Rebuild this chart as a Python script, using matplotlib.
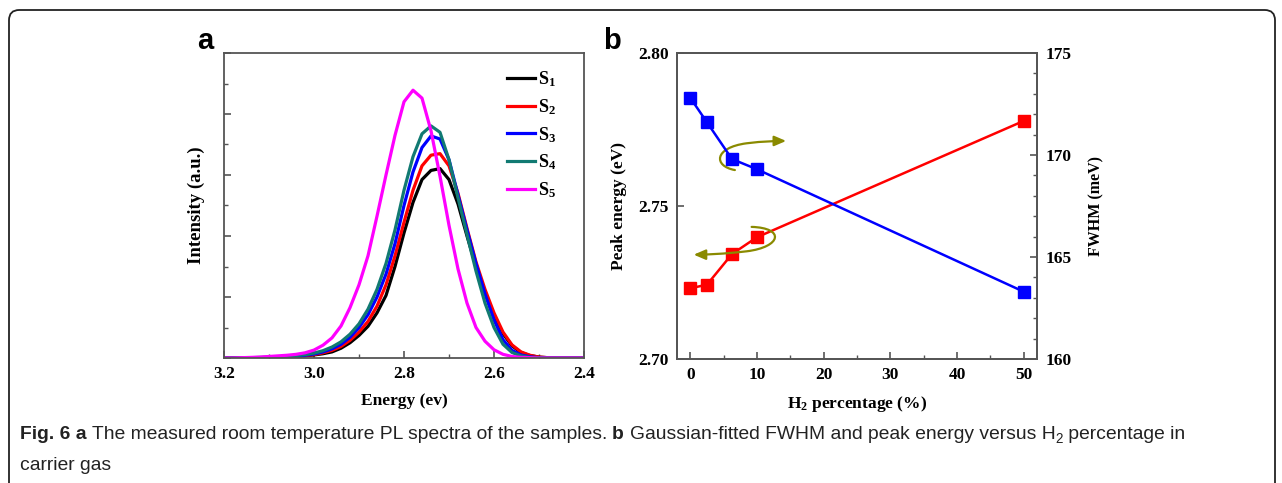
import matplotlib
matplotlib.use("Agg")
import matplotlib.pyplot as plt
from matplotlib.patches import FancyArrowPatch, FancyBboxPatch
from matplotlib.path import Path
from matplotlib.ticker import MultipleLocator, NullFormatter

plt.rcParams['font.family'] = ['Liberation Serif', 'DejaVu Serif']
plt.rcParams['font.weight'] = 'bold'
plt.rcParams['mathtext.default'] = 'regular'

# panel a: PL spectra (0.02 eV steps from 3.20 to 2.40)
energy = [3.20, 3.18, 3.16, 3.14, 3.12, 3.10, 3.08, 3.06, 3.04, 3.02, 3.00,
          2.98, 2.96, 2.94, 2.92, 2.90, 2.88, 2.86, 2.84, 2.82, 2.80,
          2.78, 2.76, 2.74, 2.72, 2.70, 2.68, 2.66, 2.64, 2.62, 2.60,
          2.58, 2.56, 2.54, 2.52, 2.50, 2.48, 2.46, 2.44, 2.42, 2.40]
s1 = [0, 0, 0, 0, 0.001, 0.001, 0.002, 0.003, 0.005, 0.007, 0.010,
      0.014, 0.020, 0.032, 0.050, 0.074, 0.104, 0.148, 0.205, 0.300, 0.410,
      0.510, 0.585, 0.615, 0.621, 0.585, 0.505, 0.400, 0.300, 0.215, 0.140,
      0.080, 0.040, 0.018, 0.008, 0.003, 0.001, 0, 0, 0, 0]
s2 = [0, 0, 0, 0, 0.001, 0.001, 0.002, 0.003, 0.005, 0.008, 0.011,
      0.017, 0.025, 0.038, 0.058, 0.085, 0.120, 0.170, 0.240, 0.335, 0.445,
      0.550, 0.630, 0.665, 0.670, 0.630, 0.540, 0.425, 0.315, 0.225, 0.148,
      0.085, 0.043, 0.020, 0.009, 0.003, 0.001, 0, 0, 0, 0]
s3 = [0, 0, 0, 0, 0.001, 0.002, 0.003, 0.004, 0.006, 0.009, 0.013,
      0.020, 0.030, 0.045, 0.068, 0.100, 0.142, 0.200, 0.275, 0.375, 0.500,
      0.610, 0.690, 0.728, 0.718, 0.650, 0.535, 0.420, 0.310, 0.210, 0.125,
      0.060, 0.025, 0.010, 0.004, 0.001, 0, 0, 0, 0, 0]
s4 = [0, 0, 0, 0.001, 0.002, 0.003, 0.004, 0.005, 0.008, 0.011, 0.016,
      0.024, 0.036, 0.053, 0.078, 0.112, 0.160, 0.225, 0.310, 0.420, 0.550,
      0.660, 0.735, 0.761, 0.740, 0.650, 0.525, 0.405, 0.285, 0.180, 0.100,
      0.045, 0.018, 0.007, 0.002, 0.001, 0, 0, 0, 0, 0]
s5 = [0, 0, 0.001, 0.002, 0.003, 0.005, 0.007, 0.009, 0.012, 0.017, 0.026,
      0.042, 0.066, 0.105, 0.165, 0.240, 0.335, 0.465, 0.600, 0.730, 0.840,
      0.878, 0.852, 0.745, 0.596, 0.435, 0.292, 0.180, 0.100, 0.055, 0.027,
      0.012, 0.005, 0.002, 0.001, 0, 0, 0, 0, 0, 0]
spectra = [s1, s2, s3, s4, s5]
sample_names = ['S$_1$', 'S$_2$', 'S$_3$', 'S$_4$', 'S$_5$']
spectra_colors = ['black', 'red', 'blue', '#117a72', '#ff00ff']

# panel b
h2_percent = [0, 2.5, 6.25, 10, 50]
peak_energy = [2.7231, 2.7243, 2.7343, 2.7398, 2.7778]
fwhm = [172.8, 171.6, 169.8, 169.3, 163.3]

W, H = 1282, 483
fig = plt.figure(figsize=(W / 100, H / 100), dpi=100)

def px_axes(left, top, right, bottom):
    return fig.add_axes([left / W, 1 - bottom / H, (right - left) / W, (bottom - top) / H])

# frame around the whole figure
fig.patches.append(FancyBboxPatch((9 / W, -0.05), 1266 / W, 1 - 10 / H + 0.05,
                                  boxstyle="round,pad=0,rounding_size=0.008",
                                  transform=fig.transFigure, fill=False,
                                  edgecolor='#222222', linewidth=1.3,
                                  mutation_aspect=W / H))

spine_col = '#555555'

# ---- panel a ----
ax1 = px_axes(224, 53, 584, 358)
for y, name, c in zip(spectra, sample_names, spectra_colors):
    ax1.plot(energy, y, color=c, lw=2.3, label=name)
ax1.set_xlim(3.2, 2.4)
ax1.set_ylim(0, 1.0)
ax1.xaxis.set_major_locator(MultipleLocator(0.2))
ax1.xaxis.set_minor_locator(MultipleLocator(0.1))
ax1.yaxis.set_major_locator(MultipleLocator(0.2))
ax1.yaxis.set_minor_locator(MultipleLocator(0.1))
ax1.yaxis.set_major_formatter(NullFormatter())
ax1.xaxis.set_major_formatter(plt.FuncFormatter(lambda v, p: f"{v:.1f}"))
ax1.tick_params(which='both', direction='in', top=False, right=False, color=spine_col)
ax1.tick_params(which='major', length=5, width=1.2, labelsize=12.5, pad=6)
ax1.tick_params(which='minor', length=3, width=1.0)
ax1.set_xlabel('Energy (ev)', fontsize=12.5, fontweight='bold', labelpad=8)
ax1.set_ylabel('Intensity (a.u.)', fontsize=13.5, fontweight='bold', labelpad=8)
for s in ax1.spines.values():
    s.set_color(spine_col)
    s.set_linewidth(1.3)
ax1.legend(loc='upper left', bbox_to_anchor=(0.785, 0.947), frameon=False,
           handlelength=1.55, handletextpad=0.2, labelspacing=0.45,
           borderpad=0, borderaxespad=0,
           prop=dict(family='Liberation Serif', weight='bold', size=13))

# ---- panel b ----
ax2 = px_axes(677, 53, 1037, 359)
ax3 = ax2.twinx()
ax2.plot(h2_percent, peak_energy, color='red', lw=1.8, marker='s', ms=8.5, zorder=3)
ax3.plot(h2_percent, fwhm, color='blue', lw=1.8, marker='s', ms=8.5, zorder=3)
ax2.set_xlim(-2, 52)
ax2.set_ylim(2.70, 2.80)
ax3.set_ylim(160, 175)
ax2.xaxis.set_major_locator(MultipleLocator(10))
ax2.xaxis.set_minor_locator(MultipleLocator(5))
ax2.yaxis.set_major_locator(MultipleLocator(0.05))
ax2.yaxis.set_major_formatter(plt.FuncFormatter(lambda v, p: f"{v:.2f}"))
ax3.yaxis.set_major_locator(MultipleLocator(5))
ax3.yaxis.set_minor_locator(MultipleLocator(1))
ax2.tick_params(which='both', direction='in', top=False, right=False, color=spine_col)
ax2.tick_params(which='major', length=5, width=1.2, labelsize=12.5, pad=6)
ax2.tick_params(which='minor', length=3, width=1.0)
ax3.tick_params(which='both', direction='in', color=spine_col)
ax3.tick_params(which='major', length=5, width=1.2, labelsize=12.5, pad=6)
ax3.tick_params(which='minor', length=3, width=1.0)
ax2.set_xlabel('H$_2$ percentage (%)', fontsize=12.5, fontweight='bold', labelpad=8)
ax2.set_ylabel('Peak energy (eV)', fontsize=12.5, fontweight='bold', labelpad=8)
ax3.set_ylabel('FWHM (meV)', fontsize=11.5, fontweight='bold', labelpad=12)
for a in (ax2, ax3):
    for s in a.spines.values():
        s.set_color(spine_col)
        s.set_linewidth(1.3)

# curved arrows pointing to the matching axis (pixel points of the reference crop)
def zc(zx, zy):
    return ((zx - 302) / 19.9, 2.80 - (zy - 102) / 9150)

olive = '#8a8a00'
for pts in ([(435, 452), (370, 440), (372, 385), (470, 372), (520, 366), (555, 365), (588, 365)],
            [(485, 622), (585, 625), (575, 682), (470, 695), (400, 703), (350, 705), (312, 705)]):
    verts = [zc(*p) for p in pts]
    path = Path(verts, [Path.MOVETO] + [Path.CURVE4] * 6)
    ax2.add_patch(FancyArrowPatch(path=path, arrowstyle='-|>,head_length=7,head_width=3',
                                  color=olive, lw=1.6, zorder=4))

# panel letters
fig.text(197 / W, 1 - 49 / H, 'a', fontsize=21, fontweight='bold', family='Liberation Sans')
fig.text(603 / W, 1 - 49 / H, 'b', fontsize=21, fontweight='bold', family='Liberation Sans')

# caption, built piece by piece so bold and regular runs can mix
cap_family = ['Liberation Sans']
fig.canvas.draw()
renderer = fig.canvas.get_renderer()

def chain(pieces, x_px, y_px, size=13.9):
    x = x_px
    for txt, weight, sub in pieces:
        fs = size * 0.7 if sub else size
        yy = y_px + (4 if sub else 0)
        t = fig.text(x / W, 1 - yy / H, txt, fontsize=fs, fontweight=weight,
                     family=cap_family, color='#222222')
        bb = t.get_window_extent(renderer)
        x += bb.width

chain([('Fig. 6 a ', 'bold', False),
       ('The measured room temperature PL spectra of the samples. ', 'normal', False),
       ('b ', 'bold', False),
       ('Gaussian-fitted FWHM and peak energy versus H', 'normal', False),
       ('2', 'normal', True),
       (' percentage in', 'normal', False)], 20, 439)
chain([('carrier gas', 'normal', False)], 20, 470)

fig.savefig('out.png', dpi=100)
